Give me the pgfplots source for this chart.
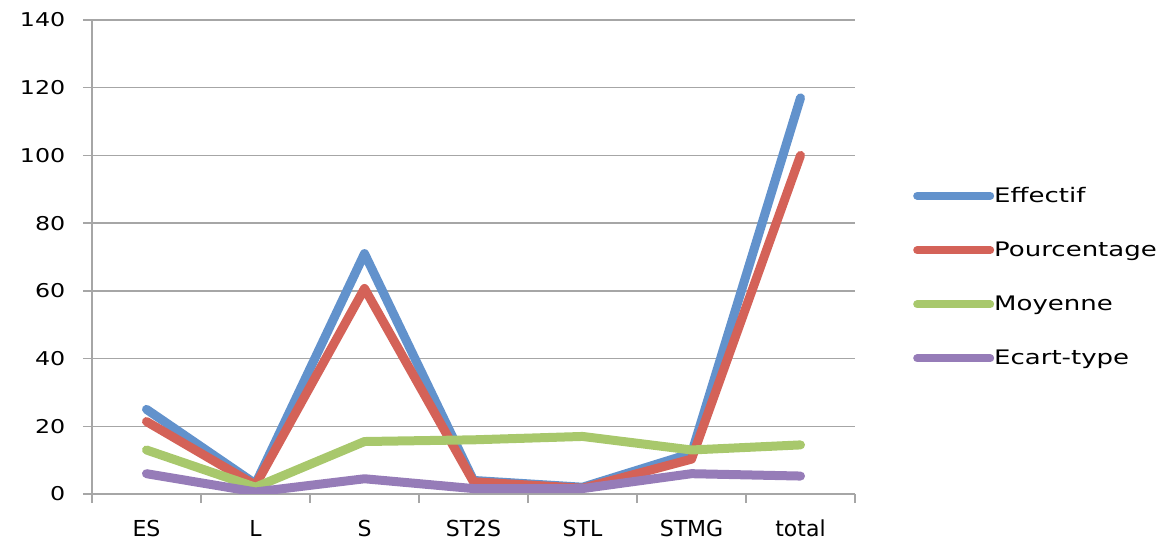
\documentclass[border=0pt]{standalone}
\usepackage{fontspec}
\setmainfont{DejaVu Sans}
\usepackage{graphicx}
\usepackage{pgfplots}
\pgfplotsset{compat=1.18}
\definecolor{cBlue}{RGB}{98,146,204}
\definecolor{cRed}{RGB}{212,98,88}
\definecolor{cGreen}{RGB}{168,200,108}
\definecolor{cPurple}{RGB}{150,124,184}
\definecolor{cGrid}{RGB}{166,166,166}
\begin{document}
\begin{tikzpicture}
\begin{axis}[
  scale only axis, width=763bp, height=474bp,
  xmin=-0.5, xmax=6.5, ymin=0, ymax=140,
  axis x line*=bottom, axis y line*=left,
  axis line style={cGrid, line width=1.5bp},
  ytick={0,20,...,140},
  ymajorgrids, grid style={cGrid, line width=1.5bp},
  xtick={-0.5,0.5,...,6.5}, xticklabels={},
  extra x ticks={0,...,6},
  extra x tick labels={ES,L,S,ST2S,STL,STMG,total},
  extra x tick style={major tick length=0pt, grid=none, tick style={draw=none}},
  tick style={cGrid, line width=1.5bp},
  tick align=outside, major tick length=9bp,
  /pgf/number format/assume math mode=true,
  yticklabel style={font=\fontsize{19bp}{22bp}\selectfont, xscale=1.25, anchor=east, inner sep=0pt, xshift=-14bp},
  xticklabel style={font=\fontsize{22bp}{26bp}\selectfont, anchor=north, inner sep=0pt, yshift=-26bp},
  legend style={at={(1,0.458)}, anchor=west, xshift=55bp, draw=none, fill=none,
    font=\fontsize{20bp}{24bp}\selectfont, row sep=38bp,
    nodes={inner sep=0pt, anchor=west}, /tikz/every even column/.style={column sep=5bp}},
  legend cell align=left,
  legend image code/.code={\draw[#1, line width=8bp] (0bp,0bp) -- (73bp,0bp);},
  every axis plot/.append style={line width=9bp, line join=round, line cap=round},
]
\addplot[cBlue] coordinates {(0,25) (1,3) (2,71) (3,4) (4,2) (5,12) (6,117)};
\addlegendentry{\scalebox{1.3}[1]{Effectif}}
\addplot[cRed] coordinates {(0,21.4) (1,2.6) (2,60.7) (3,3.6) (4,1.7) (5,10.3) (6,100)};
\addlegendentry{\scalebox{1.3}[1]{Pourcentage}}
\addplot[cGreen] coordinates {(0,13) (1,2) (2,15.5) (3,16) (4,17) (5,13) (6,14.5)};
\addlegendentry{\scalebox{1.3}[1]{Moyenne}}
\addplot[cPurple] coordinates {(0,6) (1,0.6) (2,4.5) (3,1.6) (4,1.6) (5,6) (6,5.3)};
\addlegendentry{\scalebox{1.3}[1]{Ecart-type}}
\end{axis}
\path[draw=none] (current axis.south west) ++(-92bp,-49bp) rectangle ++(1164bp,543bp);
\end{tikzpicture}
\end{document}
